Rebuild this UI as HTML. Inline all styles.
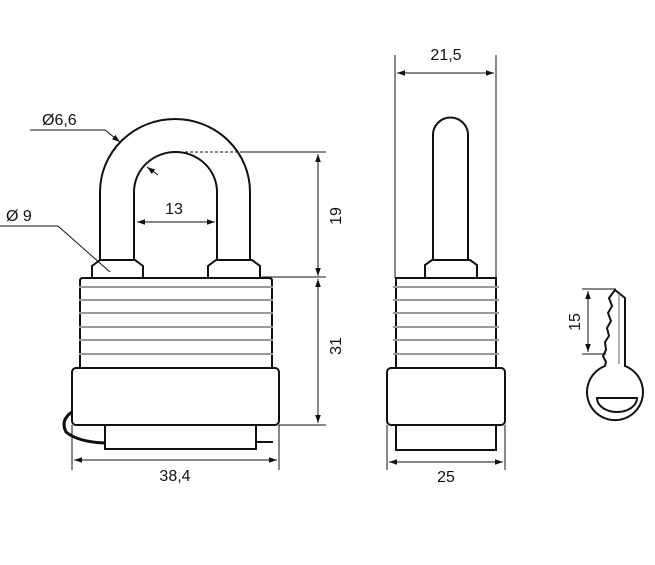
<!DOCTYPE html>
<html><head><meta charset="utf-8"><style>
html,body{margin:0;padding:0;background:#fff;width:655px;height:565px;overflow:hidden}
text{font-family:"Liberation Sans",sans-serif;font-size:16px;fill:#111}
</style></head><body>
<svg width="655" height="565" viewBox="0 0 655 565" xmlns="http://www.w3.org/2000/svg">
<defs>
<marker id="a" viewBox="0 0 10 10" refX="10" refY="5" markerWidth="8" markerHeight="8" orient="auto-start-reverse" markerUnits="userSpaceOnUse"><path d="M0,1.5 L10,5 L0,8.5 Z" fill="#111"/></marker>
</defs>
<g fill="none" stroke="#111" stroke-width="2">
<path d="M100,261 V192 A75,73 0 0 1 250,192 V261"/>
<path d="M134,261 V192 A41.5,40 0 0 1 217,192 V261"/>
<path d="M92,278 V266 L100,260 H135 L143,266 V278"/>
<path d="M208,278 V266 L216,260 H252 L260,266 V278"/>
<path d="M80,368 V281 Q80,278 83,278 H269 Q272,278 272,281 V368"/>
<rect x="72" y="368" width="207" height="57" rx="4"/>
<rect x="105" y="425" width="151" height="24"/>
<path d="M72,412 Q60,420 66,432 Q78,442 105,443" stroke-width="3"/>
<path d="M256,442 H273" stroke-width="2"/>
</g>
<g stroke="#999" stroke-width="2">
<line x1="79" y1="287" x2="273" y2="287"/><line x1="79" y1="300" x2="273" y2="300"/>
<line x1="79" y1="313" x2="273" y2="313"/><line x1="79" y1="327" x2="273" y2="327"/>
<line x1="79" y1="340" x2="273" y2="340"/><line x1="79" y1="354" x2="273" y2="354"/>
</g>
<g stroke="#111" stroke-width="1" fill="none">
<line x1="72" y1="425" x2="72" y2="470"/><line x1="279" y1="425" x2="279" y2="470"/>
<line x1="74" y1="460" x2="277" y2="460" marker-start="url(#a)" marker-end="url(#a)"/>
<line x1="137" y1="222" x2="215" y2="222" marker-start="url(#a)" marker-end="url(#a)"/>
<line x1="185" y1="152" x2="240" y2="152" stroke-dasharray="3,2"/>
<line x1="240" y1="152" x2="326" y2="152"/>
<line x1="262" y1="277" x2="326" y2="277"/>
<line x1="279" y1="425" x2="326" y2="425"/>
<line x1="318" y1="154" x2="318" y2="276" marker-start="url(#a)" marker-end="url(#a)"/>
<line x1="318" y1="279" x2="318" y2="423" marker-start="url(#a)" marker-end="url(#a)"/>
<path d="M30,130 H105 L120,142" marker-end="url(#a)"/>
<line x1="158" y1="175" x2="147" y2="167" marker-end="url(#a)"/>
<path d="M0,226 H58 L110,272"/>
</g>
<text x="175" y="481" text-anchor="middle">38,4</text>
<text x="174" y="214" text-anchor="middle">13</text>
<text x="42" y="125">Ø6,6</text>
<text x="6" y="221">Ø 9</text>
<text transform="translate(341,216) rotate(-90)" text-anchor="middle">19</text>
<text transform="translate(341,346) rotate(-90)" text-anchor="middle">31</text>
<g fill="none" stroke="#111" stroke-width="2">
<path d="M433,261 V135 A17.5,17.5 0 0 1 468,135 V261"/>
<path d="M425,278 V265 L432,260 H470 L477,265 V278"/>
<path d="M396,368 V278 H496 V368"/>
<rect x="387" y="368" width="118" height="57" rx="4"/>
<rect x="396" y="425" width="100" height="25"/>
</g>
<g stroke="#999" stroke-width="2">
<line x1="393" y1="287" x2="499" y2="287"/><line x1="393" y1="300" x2="499" y2="300"/>
<line x1="393" y1="313" x2="499" y2="313"/><line x1="393" y1="327" x2="499" y2="327"/>
<line x1="393" y1="340" x2="499" y2="340"/><line x1="393" y1="354" x2="499" y2="354"/>
</g>
<g stroke="#111" stroke-width="1" fill="none">
<line x1="395" y1="55" x2="395" y2="278"/><line x1="496" y1="55" x2="496" y2="278"/>
<line x1="397" y1="73" x2="494" y2="73" marker-start="url(#a)" marker-end="url(#a)"/>
<line x1="387" y1="425" x2="387" y2="470"/><line x1="505" y1="425" x2="505" y2="470"/>
<line x1="389" y1="462" x2="503" y2="462" marker-start="url(#a)" marker-end="url(#a)"/>
<line x1="582" y1="289" x2="616" y2="289"/><line x1="582" y1="354" x2="606" y2="354"/>
<line x1="588" y1="291" x2="588" y2="352" marker-start="url(#a)" marker-end="url(#a)"/>
</g>
<text x="446" y="60" text-anchor="middle">21,5</text>
<text x="446" y="482" text-anchor="middle">25</text>
<text transform="translate(580,322) rotate(-90)" text-anchor="middle">15</text>
<g fill="none" stroke="#111" stroke-width="2">
<path d="M615,290 L625,298 V366 A28,28 0 1 1 605,366 L606,362 L603,356 L606,350 L605,342 L609,336 L607,328 L611,321 L608,313 L612,306 L609,298 Z"/>
<path d="M597,398 H637 A20,14 0 0 1 597,398 Z"/>
</g>
<line x1="619" y1="294" x2="619" y2="364" stroke="#999" stroke-width="1.5"/>
</svg>
</body></html>
